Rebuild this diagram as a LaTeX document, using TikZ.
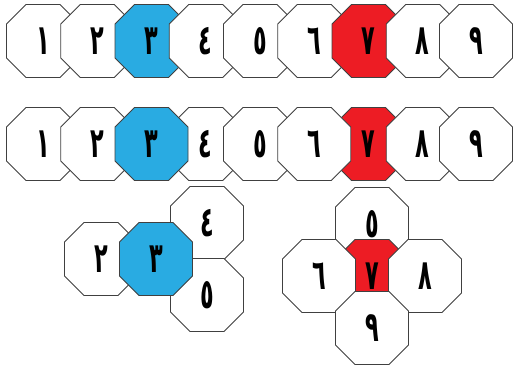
\documentclass[tikz,border=0pt]{standalone}
\usepackage{fontspec}
\usetikzlibrary{shapes.geometric}
\newfontfamily\arabicfont[Script=Arabic]{DejaVu Sans}
\definecolor{octblue}{HTML}{29ABE2}
\definecolor{octred}{HTML}{ED1C24}
\tikzset{
  octline/.style={draw=black!75, line width=0.9pt, line join=miter},
  digit/.style={inner sep=0pt, font=\arabicfont\bfseries\fontsize{28}{28}\selectfont}
}
% \octo{name}{x}{y}{fill}{digit}
\newcommand\octo[5]{%
  \filldraw[octline, fill=#4] (#2,#3)
    ++(-17,-36.5) -- ++(34,0) -- ++(19.5,19.5) -- ++(0,34) -- ++(-19.5,19.5)
    -- ++(-34,0) -- ++(-19.5,-19.5) -- ++(0,-34) -- cycle;
  \node[digit] (#1) at (#2,#3) {\scalebox{0.8}[1.5]{#5}};
}
\begin{document}
\begin{tikzpicture}[x=1pt,y=-1pt]
\useasboundingbox (0,0) rectangle (513,365);
% top row: drawn in order 1..9
\octo{t1}{43}{41}{white}{١}
\octo{t2}{97.25}{41}{white}{٢}
\octo{t3}{151.5}{41}{octblue}{٣}
\octo{t4}{205.75}{41}{white}{٤}
\octo{t5}{260}{41}{white}{٥}
\octo{t6}{314.25}{41}{white}{٦}
\octo{t7}{368.5}{41}{octred}{٧}
\octo{t8}{422.75}{41}{white}{٨}
\octo{t9}{476}{41}{white}{٩}
% middle row
\octo{m1}{43}{144}{white}{١}
\octo{m2}{97.25}{144}{white}{٢}
\octo{m4}{205.75}{144}{white}{٤}
\octo{m3}{151.5}{144}{octblue}{٣}
\octo{m5}{260}{144}{white}{٥}
\octo{m7}{368.5}{144}{octred}{٧}
\octo{m6}{314.25}{144}{white}{٦}
\octo{m8}{422.75}{144}{white}{٨}
\octo{m9}{476}{144}{white}{٩}
% left group
\octo{l2}{101}{259}{white}{٢}
\octo{l4}{207}{223}{white}{٤}
\octo{l5}{207}{295}{white}{٥}
\octo{l3}{156}{259}{octblue}{٣}
% right group
\octo{r5}{372}{224}{white}{٥}
\octo{r7}{372}{276}{octred}{٧}
\octo{r6}{319}{276}{white}{٦}
\octo{r8}{425}{276}{white}{٨}
\octo{r9}{372}{328}{white}{٩}
\end{tikzpicture}
\end{document}
